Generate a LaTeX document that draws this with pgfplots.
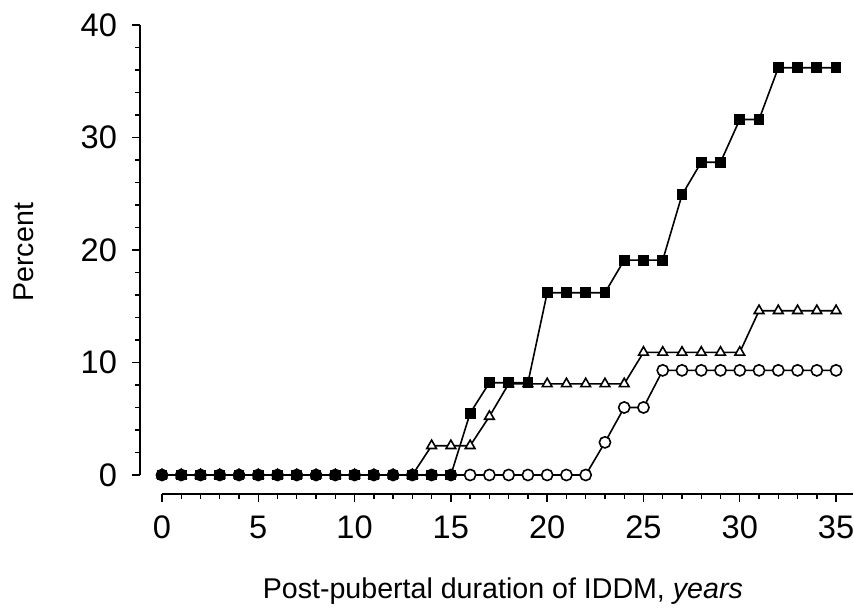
\documentclass[border=0pt]{standalone}
\usepackage{pgfplots}
\pgfplotsset{compat=1.18}
\usepackage{fontspec}
\setmainfont{Liberation Sans}

% cumulative incidence, one value per year 0..35
\pgfplotstableread{
yr sq tri circ
0 0 0 0
1 0 0 0
2 0 0 0
3 0 0 0
4 0 0 0
5 0 0 0
6 0 0 0
7 0 0 0
8 0 0 0
9 0 0 0
10 0 0 0
11 0 0 0
12 0 0 0
13 0 0 0
14 0 2.6 0
15 0 2.6 0
16 5.5 2.6 0
17 8.2 5.2 0
18 8.2 8.1 0
19 8.2 8.1 0
20 16.2 8.1 0
21 16.2 8.1 0
22 16.2 8.1 0
23 16.2 8.1 2.9
24 19.1 8.1 6.0
25 19.1 10.9 6.0
26 19.1 10.9 9.3
27 24.9 10.9 9.3
28 27.8 10.9 9.3
29 27.8 10.9 9.3
30 31.6 10.9 9.3
31 31.6 14.6 9.3
32 36.2 14.6 9.3
33 36.2 14.6 9.3
34 36.2 14.6 9.3
35 36.2 14.6 9.3
}\data

\begin{document}
\begin{tikzpicture}
\begin{axis}[
  x=9.63pt, y=5.625pt,
  xmin=0, xmax=35.9, ymin=0, ymax=40,
  axis x line=bottom, axis y line=left,
  axis line style={-, line width=0.9pt},
  axis x line shift=9.5pt,
  axis y line shift=11pt,
  clip=false,
  xtick={0,5,...,35}, minor x tick num=4,
  ytick={0,10,...,40}, minor y tick num=4,
  tick align=outside,
  major tick length=4pt, minor tick length=2.5pt,
  tick style={black, line width=0.7pt},
  font=\fontsize{14.3}{17}\selectfont,
  ticklabel style={font=\fontsize{16.3}{19}\selectfont},
  /pgf/number format/assume math mode=true,
  xticklabel shift=3.5pt,
  yticklabel shift=4pt,
  xlabel={Post-pubertal duration of IDDM, \textit{years}},
  ylabel={Percent},
  xlabel style={at={(axis description cs:0.493,-0.275)}, anchor=base},
  ylabel style={at={(axis description cs:-0.1997,0.495)}, anchor=center, rotate=0},
  every axis plot/.append style={black, line width=0.8pt},
]
\addplot[mark=*, mark size=2.8pt, mark options={fill=white, line width=0.8pt}] table[x=yr, y=circ] {\data};
\addplot[mark=triangle*, mark size=2.8pt, mark options={fill=white, line width=0.8pt}] table[x=yr, y=tri] {\data};
\addplot[mark=square*, mark size=2.3pt, mark options={fill=black}] table[x=yr, y=sq] {\data};
\coordinate (bbsw) at (axis cs:-8.41,-12.0);
\coordinate (bbne) at (axis cs:35.93,42.22);
\end{axis}
\pgfresetboundingbox
\path[use as bounding box] (bbsw) rectangle (bbne);
\end{tikzpicture}
\end{document}
